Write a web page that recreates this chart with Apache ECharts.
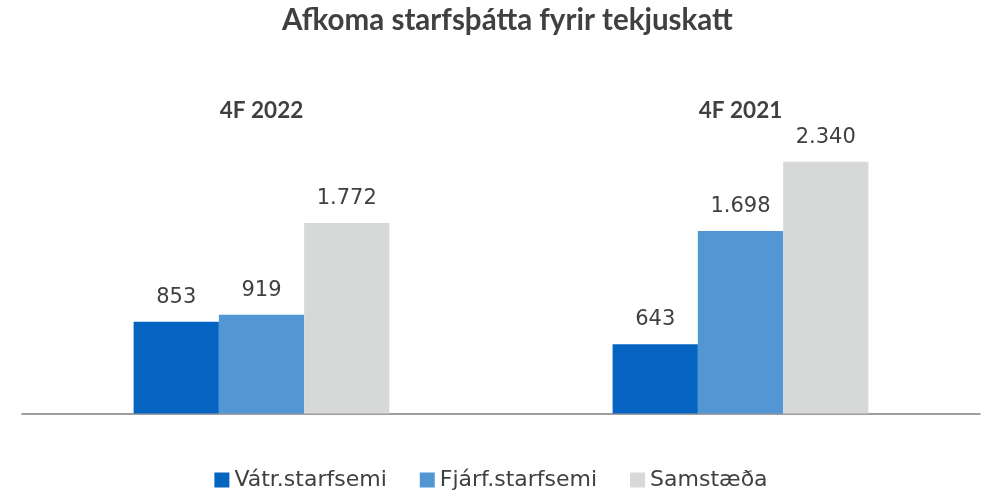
<html>
<head>
    <meta charset="UTF-8">
    <title>Afkoma starfsþátta fyrir tekjuskatt</title>
    <script src="https://cdn.jsdelivr.net/npm/echarts@6/dist/echarts.min.js"></script>
</head>
<body style="margin:0">
<div id="container" style="width: 982px;height:495px;"></div>
<script>
    var categories = ['4F 2022', '4F 2021'];
    var seriesNames = ['Vátr.starfsemi', 'Fjárf.starfsemi', 'Samstæða'];
    var vatr = [853, 643];
    var fjarf = [919, 1698];
    var samst = [1772, 2340];
    var colors = ['#0563C1', '#5296D3', '#D7D8D8'];

    // íslensk framsetning: punktur sem þúsundaskil
    function fmt(v) {
        return String(v).replace(/\B(?=(\d{3})+(?!\d))/g, '.');
    }

    var boldFont = 'Lato';
    var font = 'DejaVu Sans';
    var mycharts = echarts.init(document.getElementById('container'));
    var values = [vatr, fjarf, samst];
    var series = [];
    for (var i = 0; i < seriesNames.length; i++) {
        series.push({
            name: seriesNames[i],
            type: 'bar',
            data: values[i],
            barGap: '0%',
            barCategoryGap: '46.6%',
            itemStyle: { color: colors[i] },
            label: {
                show: true,
                position: 'top',
                distance: 14,
                fontSize: 21,
                color: '#404040',
                fontFamily: font,
                formatter: function (p) { return fmt(p.value); }
            }
        });
    }

    var option = {
        animation: false,
        title: {
            text: 'Afkoma starfsþátta fyrir tekjuskatt',
            left: 277,
            top: 0,
            textStyle: { fontSize: 29.5, fontWeight: 'bold', color: '#404040', fontFamily: boldFont }
        },
        legend: {
            data: seriesNames,
            top: 464,
            left: 'center',
            icon: 'rect',
            itemWidth: 15,
            itemHeight: 15,
            itemGap: 33,
            textStyle: { fontSize: 22, color: '#404040', fontFamily: font }
        },
        grid: { left: 22, right: 2, top: 128.5, bottom: 81.5, containLabel: false },
        xAxis: [{
            type: 'category',
            data: categories,
            axisLine: { lineStyle: { color: '#7f7f7f', width: 1.5 } },
            axisTick: { show: false },
            axisLabel: { show: false }
        }, {
            type: 'category',
            position: 'top',
            data: categories,
            axisLine: { show: false },
            axisTick: { show: false },
            axisLabel: { margin: 6, fontSize: 22.5, fontWeight: 'bold', color: '#404040', fontFamily: boldFont }
        }],
        yAxis: {
            type: 'value',
            min: 0,
            max: 2650,
            show: false,
            splitLine: { show: false }
        },
        series: series
    };
    mycharts.setOption(option);
</script>
</body>
</html>
